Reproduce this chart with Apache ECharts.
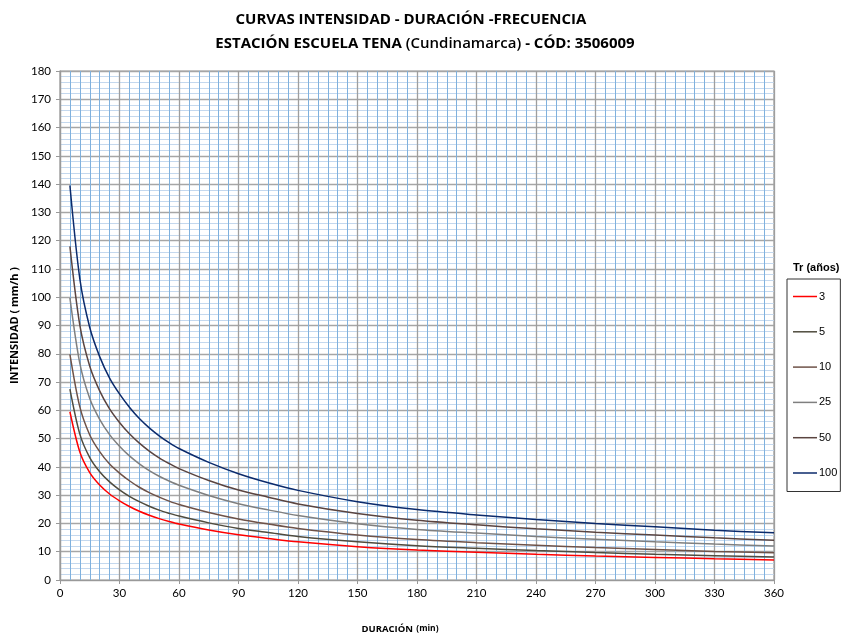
<!DOCTYPE html>
<html>
<head>
<meta charset="utf-8">
<script src="https://cdn.jsdelivr.net/npm/echarts@6/dist/echarts.min.js"></script>
<style>
html,body{margin:0;padding:0;background:#fff;}
#chart{width:846px;height:634px;}
</style>
</head>
<body>
<div id="chart"></div>
<script>
const durations = [5,10,15,20,25,30,35,40,45,50,55,60,75,90,105,120,150,180,210,240,270,300,330,360];
const seriesNames = ['3','5','10','25','50','100'];
const tr3   = [59.5,45.3,38.0,33.6,30.4,28.0,26.0,24.3,22.9,21.7,20.7,19.8,17.7,16.0,14.7,13.5,11.8,10.6,9.8,9.1,8.5,8.0,7.5,7.1];
const tr5   = [67.5,51.6,43.3,38.3,34.7,31.9,29.6,27.7,26.1,24.7,23.6,22.6,20.2,18.2,16.8,15.4,13.5,12.1,11.2,10.4,9.7,9.1,8.6,8.1];
const tr10  = [79.8,61.2,51.3,45.4,41.0,37.8,35.1,32.8,30.9,29.3,27.9,26.7,23.9,21.6,19.8,18.2,15.9,14.3,13.2,12.3,11.5,10.8,10.1,9.6];
const tr25  = [99.8,76.6,64.2,56.8,51.4,47.3,43.9,41.1,38.7,36.7,35.0,33.5,29.9,27.0,24.8,22.8,19.9,17.9,16.6,15.4,14.4,13.5,12.7,12.0];
const tr50  = [118.0,90.1,75.6,66.9,60.5,55.7,51.7,48.4,45.6,43.2,41.2,39.4,35.2,31.8,29.3,26.9,23.5,21.1,19.5,18.1,16.9,15.9,14.9,14.1];
const tr100 = [139.5,106.5,89.3,79.0,71.4,65.8,61.1,57.1,53.8,51.0,48.6,46.5,41.6,37.6,34.4,31.7,27.7,24.9,23.0,21.4,20.0,18.8,17.6,16.7];
const allValues = [tr3,tr5,tr10,tr25,tr50,tr100];
const colors = ['#ff0000','#4f4b3e','#6e5248','#7f7f7f','#5a4440','#0b2a6b'];

const chart = echarts.init(document.getElementById('chart'), null, {renderer:'canvas'});
const font = 'Lato, "DejaVu Sans", sans-serif';

const series = seriesNames.map((n,i)=>({
  name: n,
  type: 'line',
  data: durations.map((d,j)=>[d, allValues[i][j]]),
  smooth: 0.3,
  showSymbol: false,
  symbol: 'none',
  lineStyle: {color: colors[i], width: 1.5},
  itemStyle: {color: colors[i]},
  z: 3
}));

chart.setOption({
  animation: false,
  backgroundColor: '#fff',
  title: [
    {text:'CURVAS INTENSIDAD - DURACIÓN -FRECUENCIA', left: 406, top: 7, textAlign:'center',
     textStyle:{fontFamily:'"Open Sans", sans-serif', fontWeight:'bold', fontSize:15, color:'#000'}},
    {text:'{b|ESTACIÓN ESCUELA TENA }{n|(Cundinamarca)}{b| - CÓD: 3506009}', left: 420, top: 31, textAlign:'center',
     textStyle:{rich:{
       b:{fontFamily:'"Open Sans", sans-serif', fontWeight:'bold', fontSize:15, color:'#000'},
       n:{fontFamily:'"Open Sans", sans-serif', fontWeight:'600', fontSize:15, color:'#000'}
     }}},
    {text:'Tr (años)', left: 788, top: 257,
     textStyle:{fontFamily:'"Liberation Sans", Arial, sans-serif', fontWeight:'bold', fontSize:11, color:'#000'}}
  ],
  legend: {
    orient:'vertical',
    left: 787, top: 279,
    padding:[12,3,13,6],
    itemGap: 24.3,
    itemWidth: 24, itemHeight: 1.5,
    icon: 'rect',
    borderColor:'#333', borderWidth:1,
    textStyle:{fontFamily:'"Liberation Sans", Arial, sans-serif', fontSize:11, color:'#000', padding:[0,0,0,-3]},
    data: seriesNames
  },
  grid: {left: 60, right: 72, top: 71, bottom: 54, show:true, borderColor:'#999', borderWidth:1.2,
         containLabel:false, outerBoundsMode:'none'},
  xAxis: {
    type:'value', min:0, max:360, interval:30,
    name:'{b|DURACIÓN} {s|(min)}', nameLocation:'middle', nameGap: 43,
    nameTextStyle:{padding:[0,34,0,0], rich:{
      b:{fontFamily:'"Open Sans", sans-serif', fontWeight:'bold', fontSize:9.5, color:'#000'},
      s:{fontFamily:'"Open Sans", sans-serif', fontWeight:'bold', fontSize:8.5, color:'#000'}
    }},
    axisLine:{show:true, lineStyle:{color:'#999', width:1.2}},
    axisTick:{show:true, length:4, lineStyle:{color:'#999'}},
    axisLabel:{fontFamily:font, fontSize:11.5, color:'#000', margin:7},
    splitLine:{show:true, lineStyle:{color:'#9e9e9e', width:1.3}},
    minorTick:{show:false, splitNumber:6},
    minorSplitLine:{show:true, lineStyle:{color:'#7fb1de', width:1}}
  },
  yAxis: {
    type:'value', min:0, max:180, interval:10,
    name:'INTENSIDAD ( mm/h )', nameLocation:'middle', nameGap: 36, nameRotate: 90,
    nameTextStyle:{fontFamily:'"Open Sans", sans-serif', fontWeight:'bold', fontSize:11, color:'#000'},
    axisLine:{show:true, lineStyle:{color:'#999', width:1.2}},
    axisTick:{show:true, length:4, lineStyle:{color:'#999'}},
    axisLabel:{fontFamily:font, fontSize:11.5, color:'#000', margin:9},
    splitLine:{show:true, lineStyle:{color:'#a6a6a6', width:1.3}},
    minorTick:{show:false, splitNumber:5},
    minorSplitLine:{show:true, lineStyle:{color:'#c4d8ee', width:1.2}}
  },
  series: series
});
</script>
</body>
</html>
